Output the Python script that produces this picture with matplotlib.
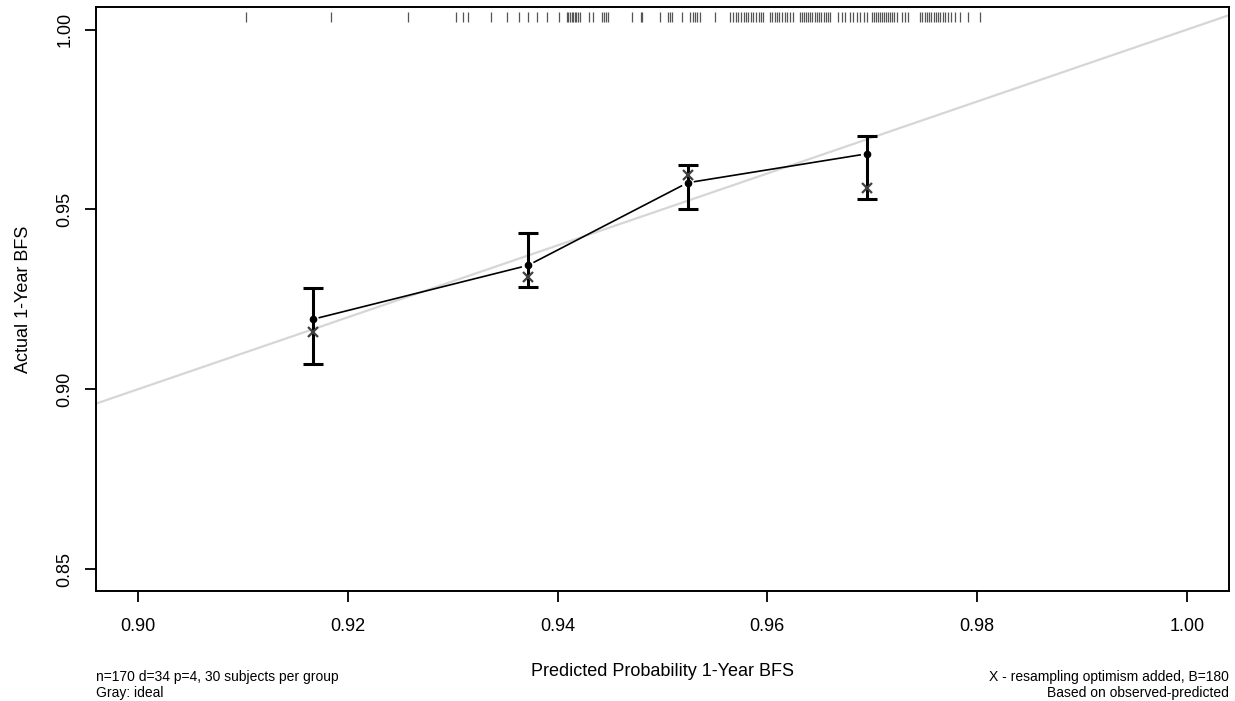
import matplotlib.pyplot as plt
import numpy as np

plt.rcParams["font.family"] = ["Liberation Sans", "DejaVu Sans"]

# grouped calibration estimates (4 groups of ~30 subjects)
pred_mean = [0.91665, 0.93718, 0.95240, 0.96950]
obs_surv = [0.91944, 0.93444, 0.95742, 0.96547]
ci_lower = [0.90714, 0.92842, 0.95000, 0.95297]
ci_upper = [0.92825, 0.94333, 0.96242, 0.97036]
obs_corrected = [0.91583, 0.93119, 0.95964, 0.95592]

# predicted probabilities of the individual subjects (rug along the top)
pred_subjects = [
    0.91027, 0.91837, 0.92571, 0.93029, 0.93101, 0.93146, 0.93362, 0.93515,
    0.93635, 0.93721, 0.93807, 0.93896, 0.94016, 0.94087, 0.94099, 0.94118,
    0.94133, 0.94147, 0.94166, 0.94180, 0.94195, 0.94214, 0.94302, 0.94338,
    0.94420, 0.94442, 0.94461, 0.94483, 0.94709, 0.94795, 0.94809, 0.94976,
    0.95052, 0.95071, 0.95090, 0.95186, 0.95262, 0.95291, 0.95310, 0.95334,
    0.95357, 0.95500, 0.95644, 0.95672, 0.95701, 0.95720, 0.95748, 0.95777,
    0.95796, 0.95815, 0.95844, 0.95863, 0.95891, 0.95920, 0.95939, 0.95958,
    0.96025, 0.96044, 0.96072, 0.96092, 0.96111, 0.96139, 0.96168, 0.96187,
    0.96216, 0.96244, 0.96311, 0.96330, 0.96349, 0.96368, 0.96387, 0.96406,
    0.96425, 0.96454, 0.96473, 0.96492, 0.96511, 0.96539, 0.96558, 0.96577,
    0.96597, 0.96673, 0.96711, 0.96740, 0.96787, 0.96816, 0.96854, 0.96883,
    0.96921, 0.96950, 0.96997, 0.97016, 0.97035, 0.97054, 0.97073, 0.97092,
    0.97111, 0.97130, 0.97149, 0.97168, 0.97188, 0.97207, 0.97235, 0.97283,
    0.97312, 0.97340, 0.97455, 0.97474, 0.97503, 0.97522, 0.97541, 0.97560,
    0.97588, 0.97607, 0.97626, 0.97645, 0.97674, 0.97693, 0.97722, 0.97750,
    0.97789, 0.97836, 0.97912, 0.98027,
]

x_ticks = [0.90, 0.92, 0.94, 0.96, 0.98, 1.00]
y_ticks = [0.85, 0.90, 0.95, 1.00]

fig = plt.figure(figsize=(12.35, 7.01), dpi=100)
ax = fig.add_axes([0.0777, 0.1574, 0.9951 - 0.0777, 0.9896 - 0.1574])
ax.set_xlim(0.896, 1.004)
ax.set_ylim(0.844, 1.0062)

# ideal line
ax.plot([0.8, 1.1], [0.8, 1.1], color="#d6d6d6", lw=1.6, zorder=1)

# rug of individual predictions
ax.vlines(pred_subjects, 0.9753, 0.9925, transform=ax.get_xaxis_transform(),
          color="#555555", lw=0.9, zorder=2)

# connecting line, broken near each point like R's type="b"
fig.canvas.draw()
pts = ax.transData.transform(np.column_stack([pred_mean, obs_surv]))
gap = 7.0
inv = ax.transData.inverted()
for p0, p1 in zip(pts[:-1], pts[1:]):
    d = p1 - p0
    u = d / np.hypot(*d)
    seg = inv.transform(np.array([p0 + u * gap, p1 - u * gap]))
    ax.plot(seg[:, 0], seg[:, 1], color="black", lw=1.2, zorder=3)

ax.errorbar(pred_mean, obs_surv,
            yerr=[np.subtract(obs_surv, ci_lower), np.subtract(ci_upper, obs_surv)],
            fmt="none", ecolor="black", elinewidth=2.2, capsize=7, capthick=2.2,
            zorder=4)
ax.plot(pred_mean, obs_surv, "o", color="black", ms=4.5, zorder=5)
ax.plot(pred_mean, obs_corrected, "x", color="#404040", ms=7, mew=1.6, zorder=5)

for side in ax.spines.values():
    side.set_linewidth(1.4)

ax.set_xticks(x_ticks)
ax.set_xticklabels([f"{t:.2f}" for t in x_ticks])
ax.set_yticks(y_ticks)
ax.set_yticklabels([f"{t:.2f}" for t in y_ticks], rotation=90, va="center")
ax.tick_params(axis="both", direction="out", length=8, width=1.3, labelsize=13)
ax.tick_params(axis="x", pad=12)
ax.tick_params(axis="y", pad=8)

ax.set_xlabel("Predicted Probability 1-Year BFS", fontsize=13, labelpad=20)
ax.set_ylabel("Actual 1-Year BFS", fontsize=13, labelpad=18)

fig.text(96 / 1235, 1 - 677 / 701, "n=170 d=34 p=4, 30 subjects per group",
         fontsize=10, ha="left", va="center")
fig.text(96 / 1235, 1 - 693 / 701, "Gray: ideal",
         fontsize=10, ha="left", va="center")
fig.text(1229 / 1235, 1 - 677 / 701, "X - resampling optimism added, B=180",
         fontsize=10, ha="right", va="center")
fig.text(1229 / 1235, 1 - 693 / 701, "Based on observed-predicted",
         fontsize=10, ha="right", va="center")

fig.savefig("out.png", dpi=100)
